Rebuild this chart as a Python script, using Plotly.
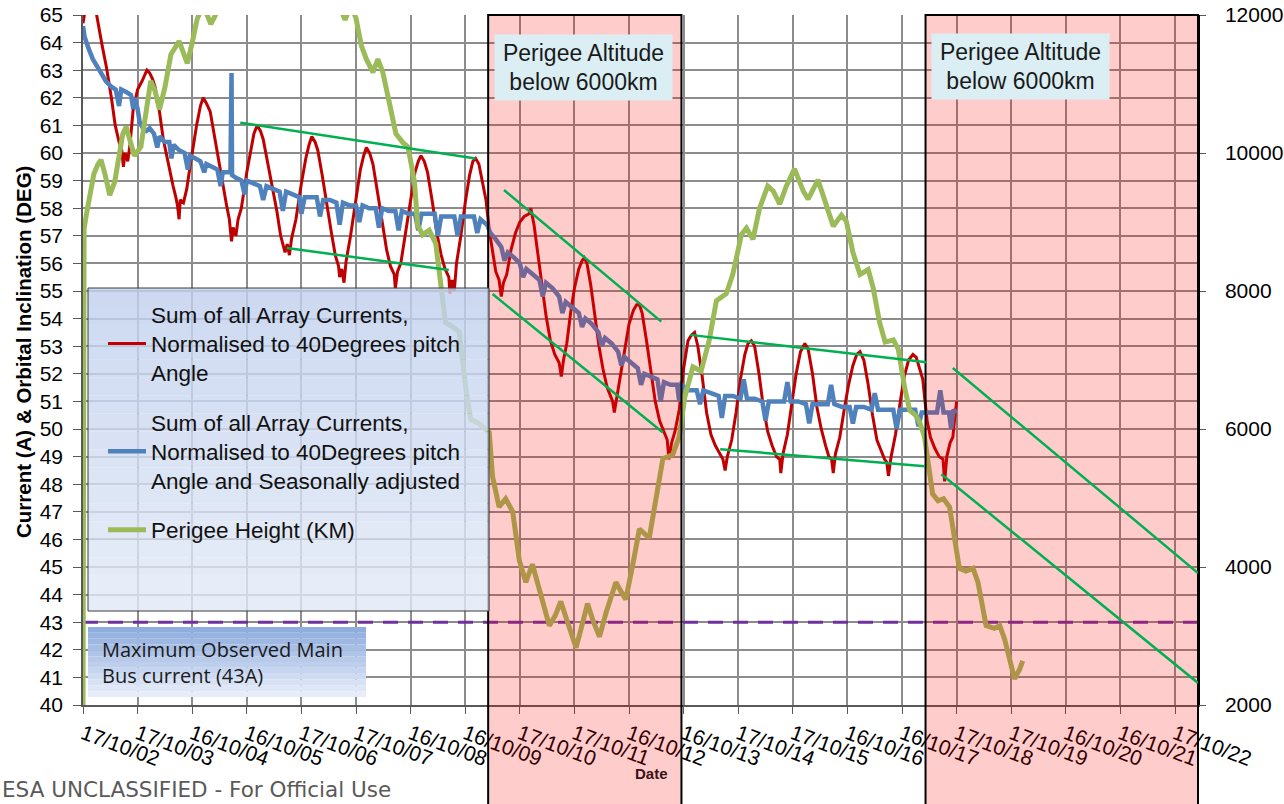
import plotly.graph_objects as go

# ---------------- data ----------------
tick_labels = ["17/10/02", "17/10/03", "16/10/04", "16/10/05", "17/10/06", "17/10/07",
               "16/10/08", "16/10/09", "17/10/10", "17/10/11", "16/10/12", "16/10/13",
               "17/10/14", "17/10/15", "16/10/16", "16/10/17", "17/10/18", "17/10/19",
               "16/10/20", "16/10/21", "17/10/22"]
tick_pos = list(range(21))
x_max = 20.42

red_x = [0.00, 0.05, 0.15, 0.25, 0.35, 0.43, 0.52, 0.59, 0.66, 0.71, 0.74, 0.77, 0.82, 0.86, 0.92,
         1.00, 1.08, 1.17, 1.22, 1.27, 1.32, 1.40, 1.47, 1.56, 1.65, 1.70, 1.73, 1.76, 1.78, 1.84,
         1.90, 1.96, 2.02, 2.08, 2.15, 2.20, 2.26, 2.33, 2.40, 2.45, 2.55, 2.63, 2.68, 2.70, 2.72,
         2.75, 2.80, 2.84, 2.90, 3.00, 3.07, 3.13, 3.19, 3.25, 3.30, 3.36, 3.45, 3.55, 3.62, 3.68,
         3.70, 3.74, 3.78, 3.82, 3.90, 4.00, 4.08, 4.14, 4.19, 4.25, 4.30, 4.38, 4.47, 4.55, 4.62,
         4.68, 4.70, 4.74, 4.78, 4.82, 4.90, 5.00, 5.08, 5.14, 5.19, 5.25, 5.31, 5.40, 5.48, 5.56,
         5.63, 5.70, 5.72, 5.76, 5.82, 5.90, 6.00, 6.08, 6.14, 6.19, 6.25, 6.31, 6.40, 6.48, 6.56,
         6.63, 6.70, 6.72, 6.76, 6.80, 6.84, 6.92, 7.00, 7.08, 7.14, 7.19, 7.25, 7.31, 7.38, 7.44,
         7.50, 7.56, 7.62, 7.66, 7.70, 7.76, 7.84, 7.92, 8.00, 8.08, 8.17, 8.20, 8.26, 8.33, 8.40,
         8.48, 8.56, 8.64, 8.72, 8.76, 8.80, 8.86, 8.93, 9.00, 9.08, 9.14, 9.18, 9.23, 9.30, 9.38,
         9.45, 9.52, 9.60, 9.66, 9.70, 9.73, 9.78, 9.84, 9.92, 10.00, 10.08, 10.14, 10.19, 10.24,
         10.32, 10.40, 10.48, 10.56, 10.64, 10.70, 10.73, 10.78, 10.84, 10.92, 11.00, 11.08, 11.14,
         11.20, 11.26, 11.34, 11.42, 11.50, 11.58, 11.66, 11.72, 11.76, 11.80, 11.88, 11.96, 12.04,
         12.12, 12.18, 12.24, 12.30, 12.38, 12.46, 12.54, 12.62, 12.70, 12.76, 12.78, 12.82, 12.90,
         12.98, 13.06, 13.14, 13.22, 13.28, 13.36, 13.44, 13.52, 13.60, 13.66, 13.71, 13.74, 13.78,
         13.86, 13.94, 14.02, 14.10, 14.17, 14.23, 14.30, 14.38, 14.46, 14.54, 14.62, 14.68, 14.72,
         14.75, 14.80, 14.88, 14.96, 15.04, 15.12, 15.20, 15.26, 15.32, 15.38, 15.42, 15.46, 15.52,
         15.60, 15.68, 15.75, 15.78, 15.82, 15.88, 15.93, 15.97, 16.00]
red_y = [64.7, 65.3, 65.8, 65.0, 63.9, 63.1, 62.0, 61.0, 60.4, 60.1, 59.5, 60.0, 59.7, 60.3, 61.6,
         62.3, 62.6, 63.0, 62.9, 62.7, 62.4, 61.5, 60.5, 59.6, 58.8, 58.4, 58.1, 57.6, 58.3, 58.2,
         58.7, 59.5, 60.3, 61.0, 61.7, 62.0, 61.8, 61.5, 60.7, 60.1, 59.0, 58.1, 57.6, 57.2, 56.8,
         57.3, 57.0, 57.6, 58.0, 59.3, 60.1, 60.7, 61.0, 60.8, 60.5, 59.9, 58.9, 57.9, 57.0, 56.6,
         56.4, 56.7, 56.3, 56.9, 57.6, 58.9, 59.8, 60.3, 60.6, 60.4, 60.1, 59.2, 58.0, 57.1, 56.3,
         55.9, 55.5, 55.8, 55.3, 56.1, 57.0, 58.4, 59.4, 59.9, 60.2, 60.0, 59.6, 58.5, 57.5, 56.5,
         55.9, 55.6, 55.1, 55.7, 56.0, 57.0, 58.3, 59.3, 59.7, 59.9, 59.7, 59.3, 58.2, 57.1, 56.3,
         55.8, 55.5, 54.9, 55.4, 55.0, 56.0, 57.0, 58.2, 59.2, 59.7, 59.8, 59.6, 59.0, 58.3, 57.2,
         56.4, 55.7, 55.4, 54.8, 55.3, 55.6, 56.5, 57.1, 57.5, 57.7, 57.8, 58.0, 57.4, 56.3, 55.2,
         54.1, 53.2, 52.7, 52.4, 51.9, 52.5, 53.1, 54.2, 55.1, 55.8, 56.1, 56.2, 56.0, 55.2, 54.0,
         53.0, 52.2, 51.5, 51.2, 51.0, 50.6, 51.2, 52.0, 53.0, 53.8, 54.3, 54.5, 54.5, 54.2,
         53.2, 52.0, 51.0, 50.3, 49.9, 49.6, 48.9, 49.5, 49.9, 50.7, 52.2, 53.2, 53.4,
         53.5, 53.0, 51.9, 50.6, 49.8, 49.4, 49.1, 48.9, 48.5, 49.0, 49.6, 50.6, 51.8,
         52.7, 53.1, 53.2, 53.0, 52.0, 50.8, 49.9, 49.4, 49.0, 48.9, 48.4, 49.1, 49.8,
         50.9, 52.0, 52.8, 53.1, 52.9, 52.0, 50.8, 50.0, 49.4, 49.0, 48.9, 48.4, 49.1,
         49.7, 50.7, 51.6, 52.3, 52.7, 52.8, 52.5, 51.6, 50.5, 49.6, 49.2, 48.9, 48.8,
         48.3, 49.0, 49.8, 50.9, 51.9, 52.5, 52.7, 52.6, 52.2, 51.8, 51.0, 50.3, 49.7,
         49.3, 49.0, 48.9, 48.1, 49.0, 49.5, 49.7, 50.5, 51.0]

blue_x = [0.00, 0.03, 0.10, 0.18, 0.27, 0.35, 0.42, 0.52, 0.60, 0.66, 0.70, 0.80, 0.88, 0.92, 0.95,
          1.00, 1.04, 1.10, 1.16, 1.22, 1.30, 1.36, 1.40, 1.50, 1.58, 1.62, 1.66, 1.76, 1.86, 1.92,
          1.96, 2.06, 2.15, 2.22, 2.26, 2.36, 2.46, 2.52, 2.56, 2.66, 2.70, 2.72, 2.73, 2.80, 2.90,
          2.96, 3.00, 3.12, 3.24, 3.30, 3.36, 3.48, 3.60, 3.66, 3.72, 3.84, 3.96, 4.00, 4.06, 4.18,
          4.28, 4.34, 4.40, 4.52, 4.64, 4.70, 4.76, 4.88, 5.00, 5.06, 5.12, 5.24, 5.36, 5.42, 5.48,
          5.60, 5.72, 5.78, 5.84, 5.96, 6.08, 6.14, 6.20, 6.32, 6.44, 6.50, 6.56, 6.68, 6.80, 6.86,
          6.92, 7.04, 7.16, 7.22, 7.28, 7.40, 7.46, 7.55, 7.66, 7.72, 7.78, 7.90, 8.00, 8.06, 8.12,
          8.24, 8.36, 8.42, 8.48, 8.60, 8.72, 8.78, 8.84, 8.96, 9.08, 9.14, 9.20, 9.32, 9.44, 9.50,
          9.56, 9.68, 9.80, 9.86, 9.92, 10.04, 10.16, 10.22, 10.28, 10.40, 10.52, 10.58, 10.64,
          10.76, 10.88, 10.92, 10.96, 11.10, 11.24, 11.30, 11.36, 11.50, 11.64, 11.70, 11.76, 11.90,
          12.04, 12.10, 12.16, 12.30, 12.44, 12.50, 12.56, 12.70, 12.84, 12.90, 12.96, 13.10, 13.24,
          13.30, 13.36, 13.50, 13.64, 13.70, 13.76, 13.90, 14.04, 14.10, 14.16, 14.30, 14.44, 14.50,
          14.56, 14.70, 14.84, 14.90, 14.96, 15.10, 15.24, 15.30, 15.36, 15.50, 15.64, 15.70, 15.76,
          15.86, 15.90, 15.94, 16.00]
blue_y = [64.6, 64.2, 63.8, 63.4, 63.1, 62.8, 62.6, 62.4, 62.3, 61.7, 62.3, 62.2, 62.1, 61.6, 62.0,
          61.6, 61.1, 60.9, 60.8, 60.9, 60.7, 60.2, 60.6, 60.4, 60.4, 59.8, 60.3, 60.1, 60.0, 59.4,
          59.9, 59.8, 59.7, 59.3, 59.6, 59.5, 59.4, 58.8, 59.3, 59.3, 59.3, 62.9, 59.2, 59.1, 59.0,
          58.5, 59.0, 58.9, 58.8, 58.3, 58.8, 58.7, 58.6, 57.9, 58.6, 58.5, 58.4, 57.8, 58.4, 58.4,
          58.4, 57.7, 58.3, 58.3, 58.2, 57.4, 58.2, 58.1, 58.1, 57.5, 58.1, 58.0, 58.0, 57.3, 58.0,
          57.9, 57.9, 57.2, 57.9, 57.8, 57.8, 57.2, 57.8, 57.8, 57.8, 57.0, 57.7, 57.7, 57.7, 57.0,
          57.7, 57.7, 57.7, 57.1, 57.6, 57.4, 57.1, 56.9, 56.6, 56.1, 56.4, 56.2, 56.0, 55.5, 55.8,
          55.6, 55.4, 54.8, 55.3, 55.1, 54.8, 54.2, 54.6, 54.4, 54.2, 53.7, 54.0, 53.8, 53.5, 53.0,
          53.3, 53.1, 52.8, 52.3, 52.6, 52.4, 52.2, 51.6, 52.0, 51.9, 51.8, 51.0, 51.7,
          51.6, 51.6, 51.0, 51.6, 51.4, 51.4, 50.9, 51.4, 51.3, 51.2, 50.4, 51.2, 51.2,
          51.1, 51.8, 51.1, 51.1, 51.0, 50.3, 51.0, 51.0, 51.0, 51.7, 51.0, 51.0, 50.9,
          50.2, 50.9, 50.9, 50.9, 51.6, 50.9, 50.8, 50.8, 50.2, 50.8, 50.8, 50.7, 51.3,
          50.7, 50.7, 50.7, 50.0, 50.7, 50.7, 50.7, 50.1, 50.6, 50.6, 50.6, 51.4, 50.6,
          50.6, 50.0, 50.7, 50.6]

perigee_x = [0.00, 0.02, 0.06, 0.12, 0.20, 0.27, 0.33, 0.40, 0.49, 0.58, 0.66, 0.73, 0.79, 0.86, 0.94,
             1.06, 1.15, 1.24, 1.32, 1.40, 1.50, 1.61, 1.76, 1.84, 1.91, 2.00, 2.09, 2.20, 2.34, 2.46,
             2.60, 4.60, 4.75, 4.80, 4.86, 4.94, 5.00, 5.10, 5.19, 5.31, 5.40, 5.49, 5.61, 5.73, 5.86,
             5.95, 6.02, 6.07, 6.13, 6.22, 6.34, 6.46, 6.58, 6.64, 6.77, 6.89, 7.01, 7.10, 7.25, 7.37,
             7.44, 7.50, 7.62, 7.74, 7.87, 7.99, 8.11, 8.23, 8.35, 8.54, 8.65, 8.75, 8.87, 9.03, 9.12,
             9.24, 9.35, 9.46, 9.58, 9.76, 9.85, 9.94, 10.07, 10.19, 10.37, 10.50, 10.62, 10.80, 10.92,
             11.02, 11.17, 11.32, 11.47, 11.60, 11.78, 11.90, 12.06, 12.15, 12.27, 12.39, 12.54, 12.64,
             12.76, 12.88, 13.03, 13.19, 13.28, 13.46, 13.61, 13.74, 13.89, 13.98, 14.10, 14.23, 14.38,
             14.47, 14.59, 14.69, 14.84, 14.93, 15.05, 15.14, 15.25, 15.33, 15.41, 15.47, 15.56, 15.66,
             15.76, 15.87, 15.96, 16.05, 16.17, 16.30, 16.39, 16.45, 16.54, 16.69, 16.79, 16.88, 16.97,
             17.06, 17.15, 17.21]
perigee_km = [2000, 8900, 9100, 9400, 9700, 9830, 9900, 9700, 9390, 9580, 10000, 10280, 10380, 10150, 9960,
              10090, 10600, 11045, 10900, 10630, 10950, 11430, 11620, 11450, 11300, 11600, 11940, 12150, 11870, 12050,
              12300, 12300, 12010, 11930, 12050, 12080, 11950, 11550, 11360, 11170, 11360, 11170, 10730, 10280, 10150,
              10090, 9800, 9580, 8950, 8815, 8880, 8690, 7920, 7540, 7480, 7410, 6590, 6140, 6080, 6010,
              5950, 5310, 4870, 4990, 4800, 4100, 3780, 4040, 3720, 3150, 3300, 3500, 3210, 2830, 3100,
              3470, 3200, 2990, 3340, 3780, 3650, 3530, 4040, 4550, 4420, 4990, 5570, 5630, 5890,
              6460, 6900, 6840, 7290, 7860, 7960, 8240, 8820, 8910, 8750, 9200, 9520, 9450,
              9260, 9520, 9770, 9450, 9330, 9610, 9260, 8940, 9100, 9010, 8560, 8240, 8310,
              8050, 7540, 7260, 7290, 7160, 6590, 6270, 6200, 6080, 5890, 5500, 5060, 4960,
              4990, 4870, 4420, 3980, 3940, 3980, 3780, 3530, 3150, 3110, 3150, 2950, 2640,
              2380, 2510, 2640]

# hand-drawn trend lines (start x, start y, end x, end y)
trend_x0 = [2.88, 3.73, 7.71, 7.50, 11.12, 11.67, 15.93, 15.72]
trend_y0 = [61.10, 56.56, 58.66, 54.89, 53.41, 49.27, 52.21, 48.36]
trend_x1 = [7.19, 6.70, 10.59, 10.62, 15.45, 15.42, 20.42, 20.42]
trend_y1 = [59.80, 55.76, 53.89, 49.87, 52.42, 48.65, 44.78, 40.80]

low_perigee_start = [7.42, 15.43]
low_perigee_end = [10.96, 20.42]
max_bus_current = 43

# ---------------- figure ----------------
FONT = "Liberation Sans, Arial, sans-serif"
fig = go.Figure()

fig.add_trace(go.Scatter(
    x=red_x, y=red_y, mode="lines", line=dict(color="#C00000", width=3),
    name="Sum of all Array Currents,<br>Normalised to 40Degrees pitch<br>Angle",
    legendgroup="a"))
fig.add_trace(go.Scatter(
    x=blue_x, y=blue_y, mode="lines", line=dict(color="#4F81BD", width=4.5),
    name="Sum of all Array Currents,<br>Normalised to 40Degrees pitch<br>Angle and Seasonally adjusted",
    legendgroup="b"))
fig.add_trace(go.Scatter(
    x=perigee_x, y=perigee_km, mode="lines", line=dict(color="#9BBB59", width=5),
    name="Perigee Height (KM)", yaxis="y2", legendgroup="c"))
fig.add_trace(go.Scatter(
    x=[0, x_max], y=[max_bus_current, max_bus_current], mode="lines",
    line=dict(color="#7030A0", width=3, dash="15px,10px"), showlegend=False))

shapes = []
# low perigee regions (drawn over the data, semi-transparent)
for s, e in zip(low_perigee_start, low_perigee_end):
    shapes.append(dict(type="rect", xref="paper", yref="paper",
                       x0=s / x_max, x1=e / x_max, y0=-0.2, y1=1,
                       fillcolor="rgba(255,0,0,0.2)", line=dict(color="black", width=2),
                       layer="above"))
# trend lines
for a, b, c, d in zip(trend_x0, trend_y0, trend_x1, trend_y1):
    shapes.append(dict(type="line", xref="x", yref="y", x0=a, y0=b, x1=c, y1=d,
                       line=dict(color="#00B050", width=2.5), layer="above"))


def px2x(p):
    return (p - 83) / 1115.0


def py2y(p):
    return (705 - p) / 690.0


# legend background with vertical gradient
n = 18
top_c, bot_c = (193, 209, 238), (226, 233, 246)
y_top, y_bot = 288, 611
for i in range(n):
    f = i / (n - 1)
    c = tuple(round(top_c[k] + (bot_c[k] - top_c[k]) * f) for k in range(3))
    ya = y_top + (y_bot - y_top) * i / n
    yb = y_top + (y_bot - y_top) * (i + 1) / n
    shapes.append(dict(type="rect", xref="paper", yref="paper",
                       x0=px2x(88), x1=px2x(489), y0=py2y(yb), y1=py2y(ya),
                       fillcolor="rgba(%d,%d,%d,0.82)" % c, line=dict(width=0), layer="above"))
shapes.append(dict(type="rect", xref="paper", yref="paper",
                   x0=px2x(88), x1=px2x(489), y0=py2y(y_bot), y1=py2y(y_top),
                   line=dict(color="#3c3c3c", width=1), fillcolor="rgba(0,0,0,0)", layer="above"))

# "Maximum observed" box with gradient
n2 = 12
top_c, bot_c = (143, 173, 222), (230, 236, 249)
y_top, y_bot = 627, 697
for i in range(n2):
    f = i / (n2 - 1)
    c = tuple(round(top_c[k] + (bot_c[k] - top_c[k]) * f) for k in range(3))
    ya = y_top + (y_bot - y_top) * i / n2
    yb = y_top + (y_bot - y_top) * (i + 1) / n2
    shapes.append(dict(type="rect", xref="paper", yref="paper",
                       x0=px2x(88), x1=px2x(366), y0=py2y(yb), y1=py2y(ya),
                       fillcolor="rgb(%d,%d,%d)" % c, line=dict(width=0), layer="above"))

annotations = [
    dict(text="Perigee Altitude<br>below 6000km", xref="paper", yref="paper",
         x=px2x(583.5), y=py2y(67), xanchor="center", yanchor="middle", showarrow=False,
         font=dict(family=FONT, size=23, color="#1a1a1a"), bgcolor="#DAEEF3",
         width=177, height=65, borderpad=0),
    dict(text="Perigee Altitude<br>below 6000km", xref="paper", yref="paper",
         x=px2x(1020.5), y=py2y(66), xanchor="center", yanchor="middle", showarrow=False,
         font=dict(family=FONT, size=23, color="#1a1a1a"), bgcolor="#DAEEF3",
         width=177, height=65, borderpad=0),
    dict(text="Maximum Observed Main<br>Bus current (43A)", xref="paper", yref="paper",
         x=px2x(100), y=py2y(662), xanchor="left", yanchor="middle", align="left",
         showarrow=False, font=dict(family="Open Sans, sans-serif", size=20, color="#1a1a1a")),
    dict(text="<b>Current (A) & Orbital Inclination (DEG)</b>", xref="paper", yref="paper",
         x=px2x(23), y=py2y(352), textangle=-90, xanchor="center", yanchor="middle",
         showarrow=False, font=dict(family=FONT, size=20.5, color="black")),
    dict(text="<b>Date</b>", xref="paper", yref="paper", x=px2x(651), y=py2y(773),
         xanchor="center", yanchor="middle", showarrow=False,
         font=dict(family=FONT, size=15, color="#3a1414")),
    dict(text="ESA UNCLASSIFIED - For Official Use", xref="paper", yref="paper",
         x=px2x(0), y=py2y(789), xanchor="left", yanchor="middle", showarrow=False,
         font=dict(family="DejaVu Sans, sans-serif", size=21.5, color="#5a5a5a")),
]

fig.update_layout(
    width=1284, height=804,
    margin=dict(l=83, r=86, t=15, b=99, autoexpand=False),
    paper_bgcolor="white", plot_bgcolor="white",
    font=dict(family=FONT, size=21, color="black"),
    showlegend=True,
    legend=dict(x=px2x(103), y=py2y(293), xanchor="left", yanchor="top",
                bgcolor="rgba(0,0,0,0)", borderwidth=0, traceorder="grouped",
                tracegroupgap=17, font=dict(family=FONT, size=22.5, color="#111111"),
                itemwidth=38),
    xaxis=dict(range=[0, x_max], tickmode="array", tickvals=tick_pos, ticktext=tick_labels,
               tickangle=20, ticks="outside", ticklen=7, tickcolor="#595959",
               showgrid=True, gridcolor="#8c8c8c", gridwidth=1.5, zeroline=False,
               showline=True, linecolor="#595959", linewidth=1.5, automargin=False,
               tickfont=dict(family=FONT, size=21, color="black")),
    yaxis=dict(range=[40, 65], dtick=1, tick0=40, ticks="outside", ticklen=8, tickcolor="#595959",
               showgrid=True, gridcolor="#8c8c8c", gridwidth=1.5, zeroline=False,
               showline=True, linecolor="#595959", linewidth=1.5, ticklabelstandoff=6,
               automargin=False, tickfont=dict(family=FONT, size=21, color="black")),
    yaxis2=dict(range=[2000, 12000], dtick=2000, tick0=2000, overlaying="y", side="right",
                tickformat="d", ticks="outside", ticklen=6, tickcolor="#595959", showgrid=False,
                zeroline=False, showline=True, linecolor="black", linewidth=1.5,
                ticklabelstandoff=15, automargin=False,
                tickfont=dict(family=FONT, size=21, color="black")),
    shapes=shapes,
    annotations=annotations,
)

fig.write_html("out.html", config={"displayModeBar": False},
               post_script="document.body.style.margin='0px';document.body.style.overflow='hidden';")
